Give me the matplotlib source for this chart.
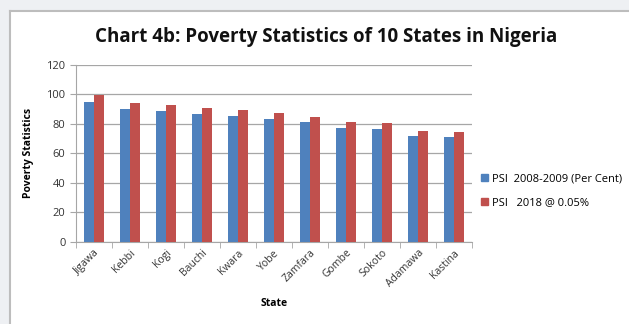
import matplotlib.pyplot as plt
import matplotlib.patches as mpatches
from matplotlib.lines import Line2D
import numpy as np

plt.rcParams['font.family'] = ['Open Sans', 'DejaVu Sans']

# 数据
states = ["Jigawa", "Kebbi", "Kogi", "Bauchi", "Kwara", "Yobe",
          "Zamfara", "Gombe", "Sokoto", "Adamawa", "Kastina"]
psi_2008 = [95.0, 89.7, 88.6, 86.3, 85.2, 83.3, 80.9, 77.0, 76.8, 71.7, 70.8]
psi_2018 = [99.8, 94.2, 93.0, 90.6, 89.5, 87.5, 84.9, 80.9, 80.6, 75.3, 74.3]
series_names = ["PSI  2008-2009 (Per Cent)", "PSI   2018 @ 0.05%"]
yticks = [0, 20, 40, 60, 80, 100, 120]

blue = "#4F81BD"
red = "#C0504D"
grid_col = "#A6A6A6"

fig = plt.figure(figsize=(6.29, 3.24), dpi=100)
fig.patch.set_facecolor("#EEF0F3")

# 白色图表区域 + 灰色边框
W, H = 629, 324
panel = mpatches.Rectangle((10 / W, 0), 1.0, 1 - 11 / H, transform=fig.transFigure,
                           facecolor="white", edgecolor="none", zorder=-5)
fig.patches.append(panel)
fig.lines.append(Line2D([10 / W, 10 / W], [0, 1 - 11 / H], transform=fig.transFigure,
                        color="#BDBDBD", lw=1.5, zorder=-4))
fig.lines.append(Line2D([10 / W, 1], [1 - 11 / H, 1 - 11 / H], transform=fig.transFigure,
                        color="#BDBDBD", lw=1.5, zorder=-4))

ax = fig.add_axes([76 / W, 1 - 242 / H, (472 - 76) / W, (242 - 64.7) / H])
ax.set_zorder(2)
ax.set_facecolor("white")

x = np.arange(len(states))
bw = 0.28
ax.bar(x - bw / 2, psi_2008, bw, color=blue, label=series_names[0], zorder=3)
ax.bar(x + bw / 2, psi_2018, bw, color=red, label=series_names[1], zorder=3)

ax.set_xlim(-0.5, len(states) - 0.5)
ax.set_ylim(0, 120)
ax.set_yticks(yticks)
ax.yaxis.grid(True, color=grid_col, lw=0.9, zorder=0)
ax.set_axisbelow(True)

for s in ["top", "right"]:
    ax.spines[s].set_visible(False)
ax.spines["left"].set_color(grid_col)
ax.spines["bottom"].set_color(grid_col)

ax.set_xticks(x)
ax.set_xticklabels(states, rotation=45, ha="right", rotation_mode="anchor",
                   fontsize=7.5, color="#333333")
ax.tick_params(axis="x", which="major", length=0, pad=4)
ax.set_xticks(np.arange(-0.5, len(states)), minor=True)
ax.tick_params(axis="x", which="minor", length=4, color=grid_col, direction="out")
ax.tick_params(axis="y", length=4, color=grid_col, labelsize=8, labelcolor="#333333")

ax.set_xlabel("State", fontsize=7.5, fontweight="bold", labelpad=6)
ax.set_ylabel("Poverty Statistics", fontsize=7.5, fontweight="bold", labelpad=9)

fig.text(0.518, 1 - 37 / H, "Chart 4b: Poverty Statistics of 10 States in Nigeria",
         ha="center", va="center", fontsize=13.5, fontweight="bold", color="#111111")

handles = [mpatches.Patch(color=blue), mpatches.Patch(color=red)]
fig.legend(handles, series_names, loc="center left",
           bbox_to_anchor=(471 / W, 1 - 191 / H), frameon=False, fontsize=8,
           handlelength=0.6, handleheight=0.6, handletextpad=0.4, labelspacing=1.1)

fig.savefig("out.png", dpi=100, facecolor=fig.get_facecolor())
